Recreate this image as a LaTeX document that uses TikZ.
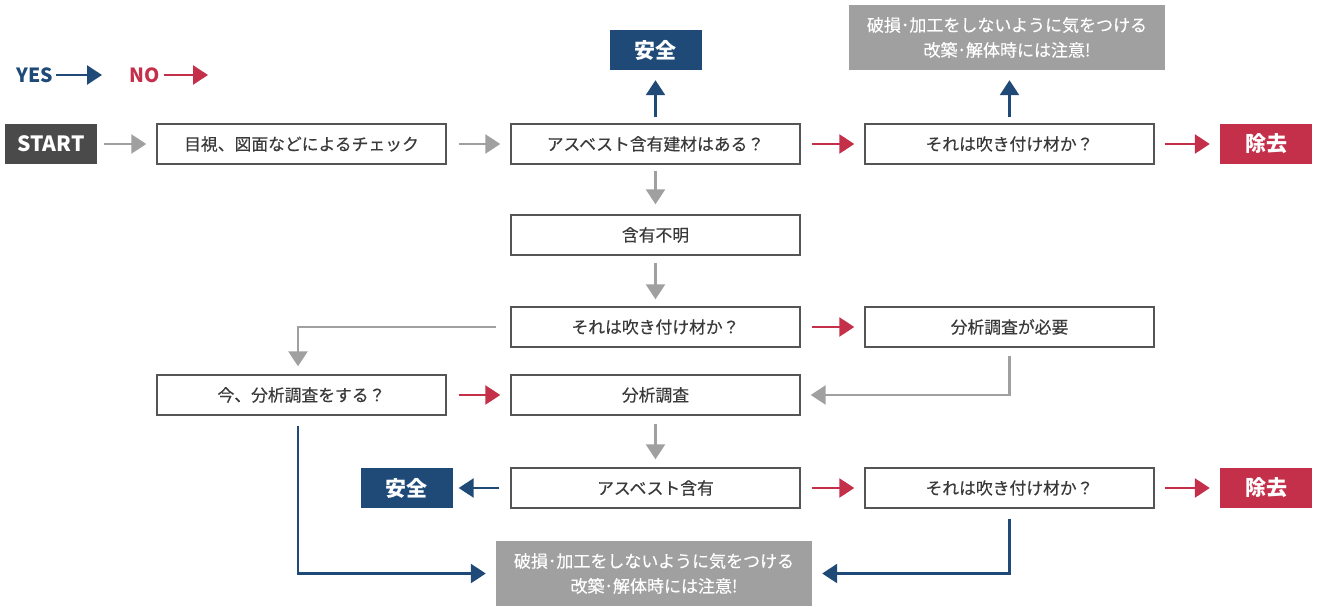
\documentclass[tikz,border=0pt]{standalone}
\usepackage{fontspec}
\setmainfont{Noto Sans CJK JP}
\newfontfamily\jpmed[FakeBold=0.35]{Noto Sans CJK JP}
\usetikzlibrary{arrows.meta}
\definecolor{ybl}{HTML}{1F4A78}
\definecolor{nrd}{HTML}{C4304A}
\definecolor{agr}{HTML}{A0A0A0}
\definecolor{dgr}{HTML}{4A4A4A}
\definecolor{txt}{HTML}{3A3A3A}
\definecolor{bdr}{HTML}{555555}
\begin{document}
\begin{tikzpicture}[x=1pt,y=-1pt,
  wbox/.style={draw=bdr,line width=1.4pt,fill=white,minimum width=289pt,minimum height=40pt,inner sep=0pt,text=txt,font=\jpmed\fontsize{16.8}{20}\selectfont},
  tagbox/.style={minimum width=92pt,minimum height=40pt,inner sep=0pt,text=white,font=\fontsize{21}{24}\selectfont\bfseries},
  notebox/.style={fill=agr,minimum width=316pt,minimum height=65pt,inner sep=0pt,text=white,align=center,font=\jpmed\fontsize{17}{25}\selectfont},
  ga/.style={draw=agr,line width=2.6pt,-{Triangle[length=15pt,width=19pt]}},
  ya/.style={draw=ybl,line width=2.6pt,-{Triangle[length=15pt,width=19pt]}},
  na/.style={draw=nrd,line width=2.6pt,-{Triangle[length=15pt,width=19pt]}},
  lbl/.style={inner sep=0pt,font=\fontsize{19.5}{22}\selectfont\bfseries}
]
\useasboundingbox (0,0) rectangle (1317,610);
% legend
\node[lbl,text=ybl,anchor=west] (yes) at (16,75) {YES};
\coordinate (yesE) at (102,75);
\draw[ya] ([xshift=3pt]yes.east) -- (yesE);
\node[lbl,text=nrd,anchor=west] (no) at (129,75) {NO};
\coordinate (noE) at (208,75);
\draw[na] ([xshift=4pt]no.east) -- (noE);
% nodes
\node[tagbox,fill=dgr] (start) at (51,144) {START};
\node[wbox] (b1) at (301.5,144) {目視、図面などによるチェック};
\node[wbox] (b2) at (655.5,144) {アスベスト含有建材はある？};
\node[tagbox,fill=ybl] (safe1) at (655.5,50) {安全};
\node[wbox] (b3) at (1009.5,144) {それは吹き付け材か？};
\node[notebox] (note1) at (1007,37.5) {破損･加工をしないように気をつける\\改築･解体時には注意!};
\node[tagbox,fill=nrd] (rm1) at (1266,144) {除去};
\node[wbox] (b4) at (655.5,235) {含有不明};
\node[wbox] (b5) at (655.5,327) {それは吹き付け材か？};
\node[wbox] (b6) at (1009.5,327) {分析調査が必要};
\node[wbox] (b7) at (301.5,395) {今、分析調査をする？};
\node[wbox] (b8) at (655.5,395) {分析調査};
\node[wbox] (b9) at (655.5,488) {アスベスト含有};
\node[tagbox,fill=ybl] (safe2) at (406.5,488) {安全};
\node[wbox] (b10) at (1009.5,488) {それは吹き付け材か？};
\node[tagbox,fill=nrd] (rm2) at (1266,488) {除去};
\node[notebox] (note2) at (654,573.5) {破損･加工をしないように気をつける\\改築･解体時には注意!};
% connectors
\draw[ga] ([xshift=7pt]start.east) -- ([xshift=-10pt]b1.west);
\draw[ga] ([xshift=12pt]b1.east) -- ([xshift=-10pt]b2.west);
\draw[ya] ([yshift=6pt]b2.north) -- ([yshift=-10pt]safe1.south);
\draw[na] ([xshift=11pt]b2.east) -- ([xshift=-10pt]b3.west);
\draw[ya] ([yshift=6pt]b3.north) -- ([yshift=-10pt]note1.south -| b3.north);
\draw[na] ([xshift=10pt]b3.east) -- ([xshift=-10pt]rm1.west);
\draw[ga] ([yshift=-6pt]b2.south) -- ([yshift=10pt]b4.north);
\draw[ga] ([yshift=-7pt]b4.south) -- ([yshift=7pt]b5.north);
\draw[na] ([xshift=11pt]b5.east) -- ([xshift=-10pt]b6.west);
\draw[ga] ([xshift=-14pt]b5.west) -| ([yshift=8pt]b7.north -| 298,0);
\draw[na] ([xshift=12pt]b7.east) -- ([xshift=-10pt]b8.west);
\draw[ga] ([yshift=-8pt]b6.south) |- ([xshift=10pt]b8.east);
\draw[ga] ([yshift=-8pt]b8.south) -- ([yshift=8pt]b9.north);
\draw[ya] ([xshift=-11pt]b9.west) -- ([xshift=6pt]safe2.east);
\draw[na] ([xshift=11pt]b9.east) -- ([xshift=-10pt]b10.west);
\draw[na] ([xshift=10pt]b10.east) -- ([xshift=-10pt]rm2.west);
\draw[ya] ([yshift=-10pt]b7.south -| 298,0) |- ([xshift=-10pt]note2.west);
\draw[ya] ([yshift=-10pt]b10.south) |- ([xshift=10pt]note2.east);
\end{tikzpicture}
\end{document}
